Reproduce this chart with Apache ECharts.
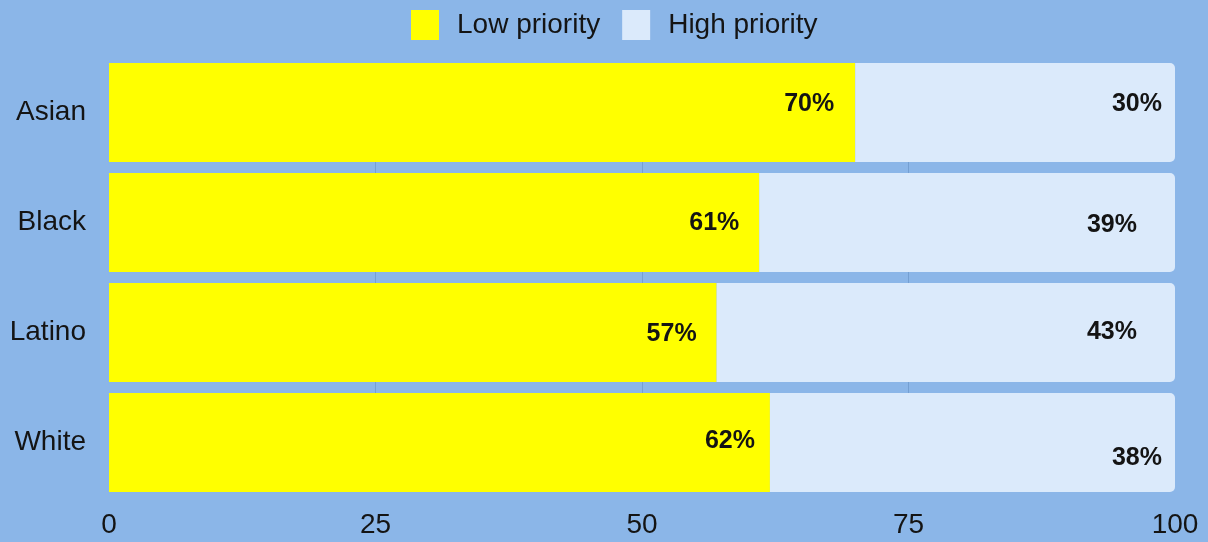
<!DOCTYPE html>
<html>
<head>
<meta charset="utf-8">
<title>Priority by group</title>
<script src="https://cdn.jsdelivr.net/npm/echarts@6/dist/echarts.min.js"></script>
<style>
  html, body { margin: 0; padding: 0; background: #8bb6e8; }
  #chart { width: 1208px; height: 542px; }
</style>
</head>
<body>
<div id="chart"></div>
<script>
// Share of respondents by group (percent)
const categories = ['Asian', 'Black', 'Latino', 'White'];
const lowPriority = [70, 61, 57, 62];
const highPriority = [30, 39, 43, 38];
const xTicks = [0, 25, 50, 75, 100];

// Per-bar nudges for the value labels [dx, dy]
const lowLabelOffsets = [[-1, -8], [0, 1], [0, 2], [5, -1]];
const highLabelOffsets = [[0, -8], [-25, 3], [-25, 0], [0, 16]];

const FONT = '"Liberation Sans", Arial, sans-serif';
const TEXT = '#141414';
const GRID_LINE = '#749fd2';

function withLabels(values, offsets) {
  return values.map((v, i) => ({ value: v, label: { offset: offsets[i] } }));
}

const chart = echarts.init(document.getElementById('chart'), null, { renderer: 'canvas' });

chart.setOption({
  backgroundColor: '#8bb6e8',
  animation: false,
  textStyle: { fontFamily: FONT },
  legend: {
    left: 406,
    top: 5,
    itemWidth: 28,
    itemHeight: 30,
    itemGap: 22,
    icon: 'rect',
    textStyle: { fontSize: 28, color: TEXT, fontFamily: FONT, padding: [0, 0, 0, 13] },
    data: ['Low priority', 'High priority']
  },
  // Category centres sit on the grid edges so gridlines only span the bar block
  grid: { left: 109, right: 33, top: 112.5, bottom: 99.5, containLabel: false },
  xAxis: {
    type: 'value',
    min: xTicks[0],
    max: xTicks[xTicks.length - 1],
    interval: 25,
    axisLine: { show: false },
    axisTick: { show: false },
    splitLine: {
      show: true,
      lineStyle: { color: ['transparent', GRID_LINE, GRID_LINE, GRID_LINE, 'transparent'], width: 1 }
    },
    axisLabel: { fontSize: 28, color: TEXT, margin: 69, fontFamily: FONT }
  },
  yAxis: {
    type: 'category',
    data: categories,
    inverse: true,
    boundaryGap: false,
    axisLine: { show: false },
    axisTick: { show: false },
    splitLine: { show: false },
    axisLabel: { fontSize: 28, color: TEXT, margin: 23, fontFamily: FONT, padding: [3, 0, 0, 0] }
  },
  series: [
    {
      name: 'Low priority',
      type: 'bar',
      stack: 'total',
      barWidth: 99,
      itemStyle: { color: '#ffff00' },
      label: {
        show: true,
        position: 'insideRight',
        distance: 20,
        formatter: '{c}%',
        fontSize: 25,
        fontWeight: 'bold',
        color: TEXT,
        fontFamily: FONT
      },
      data: withLabels(lowPriority, lowLabelOffsets)
    },
    {
      name: 'High priority',
      type: 'bar',
      stack: 'total',
      barWidth: 99,
      itemStyle: { color: '#dbeafb', borderRadius: [0, 5, 5, 0] },
      label: {
        show: true,
        position: 'insideRight',
        distance: 13,
        formatter: '{c}%',
        fontSize: 25,
        fontWeight: 'bold',
        color: TEXT,
        fontFamily: FONT
      },
      data: withLabels(highPriority, highLabelOffsets)
    }
  ]
});
</script>
</body>
</html>
